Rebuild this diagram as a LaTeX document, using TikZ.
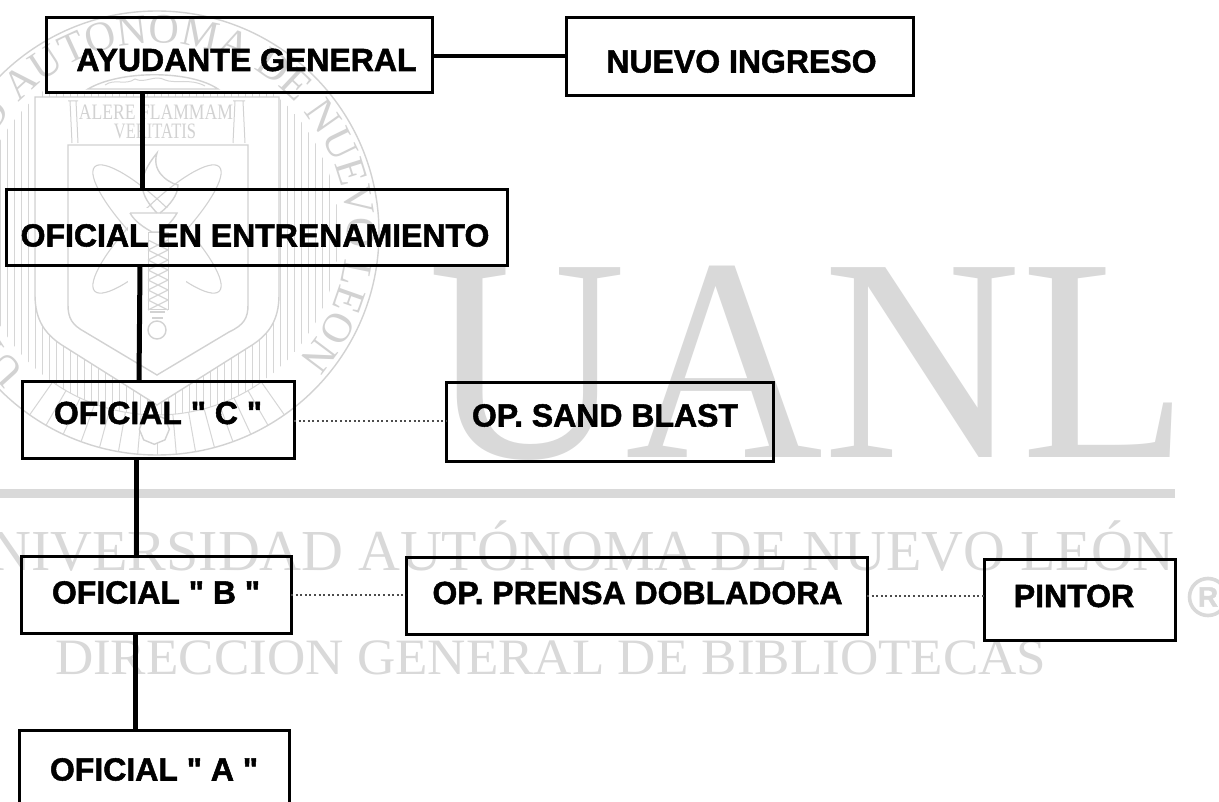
\documentclass[tikz,border=0pt]{standalone}
\usepackage{fontspec}
\usepackage{graphicx}
\usetikzlibrary{decorations.text}
\setmainfont{Liberation Serif}
\newfontfamily\labfont[BoldFeatures={FakeBold=1.6}]{Liberation Sans}
\definecolor{wm}{HTML}{D9D9D9}
\definecolor{sealc}{HTML}{D2D2D2}
\definecolor{hatchc}{HTML}{D6D6D6}
\tikzset{
  orgbox/.style={draw=black,line width=3pt,inner sep=0pt,outer sep=0pt,font=\labfont\bfseries\fontsize{32}{32}\selectfont},
  solidlink/.style={draw=black,line width=5pt},
  toplink/.style={draw=black,line width=3.8pt},
  dotlink/.style={draw=black!70,line width=1.2pt,dash pattern=on 2pt off 2.6pt},
  sealline/.style={draw=sealc,line width=1.4pt},
  hatchline/.style={draw=hatchc,line width=.8pt},
  wmtext/.style={text=wm,inner sep=0pt,outer sep=0pt}
}
\newcommand\shieldout{(35,97) -- (35,295) .. controls (35,320) and (45,335) .. (65,347) -- (157,405) -- (249,347) .. controls (269,335) and (279,320) .. (279,295) -- (279,97) -- cycle}
\newcommand\shieldin{(68,145) -- (68,305) .. controls (68,318) and (72,325) .. (85,332) -- (157,375) -- (229,332) .. controls (244,325) and (248,318) .. (248,305) -- (248,145) -- cycle}
% name, x1, y1, x2, y2, text centre x, text centre y, text
\newcommand\orgnode[8]{%
  \pgfmathsetlengthmacro\kk{2*(#6-(#2+#4)/2)}%
  \pgfmathsetlengthmacro\rr{(#3+#5)/2-#7-11.5}%
  \node[orgbox,minimum width={(#4-#2)*1pt},minimum height={(#5-#3)*1pt}] (#1) at ({(#2+#4)/2},{(#3+#5)/2})
    {\raisebox{\rr}[0pt][0pt]{\kern\kk\relax #8}};%
}
\begin{document}
\begin{tikzpicture}[x=1pt,y=-1pt]
\useasboundingbox (0,0) rectangle (1219,802);
\clip (0,0) rectangle (1219,802);
\fill[white] (0,0) rectangle (1219,802);
% --- watermark: letters
\node[wmtext,anchor=base west] (wmU) at (428,457) {\scalebox{.945}[1]{\fontsize{290}{290}\selectfont UANL}};
\fill[wm] (0,489) rectangle (1175,498);
\node[wmtext,anchor=base east] (wmA) at (1175,570) {\fontsize{58}{58}\selectfont UNIVERSIDAD AUTÓNOMA DE NUEVO LEÓN};
\node[wmtext,anchor=base west] (wmB) at (55,674) {\scalebox{1.04}[1]{\fontsize{51}{51}\selectfont DIRECCION GENERAL DE BIBLIOTECAS}};
\node[circle,draw=wm,line width=3.6pt,text=wm,inner sep=0pt,minimum size=37pt,font=\labfont\bfseries\fontsize{28}{28}\selectfont] (wmR) at (1208,597) {R};
% --- watermark: seal
\begin{scope}[even odd rule]
  \clip (-50,92) rectangle (400,450);
  \clip (157,233) circle (182pt) \shieldout;
  \foreach \x in {-28,-21,...,340} \draw[hatchline] (\x,40) -- (\x,430);
\end{scope}
\begin{scope}[shift={(157pt,-233pt)},x=1pt,y=1pt]
  \draw[sealline] (0,0) circle (222);
  \draw[hatchline,line width=1pt] (-125:182) arc[start angle=-125,end angle=-55,radius=182];
  \foreach \a in {-125,-120,...,-55} \draw[hatchline,line width=1pt] (\a:182) -- (\a:222);
  \path[decorate,decoration={text along path,text align=center,
     text={|\fontsize{42}{42}\selectfont\color{sealc}|UNIVERSIDAD AUTONOMA DE NUEVO LEON}}]
     (230:190) arc[start angle=230,end angle=-45,radius=190];
  \draw[sealline,fill=white] (-1.5,-202) ++(22.5:15) -- ++(112.5:11.5) -- ++(157.5:11.5) -- ++(202.5:11.5) -- ++(247.5:11.5) -- ++(292.5:11.5) -- ++(337.5:11.5) -- ++(22.5:11.5) -- cycle;
\end{scope}
\draw[sealline] \shieldout;
\draw[sealline] \shieldin;
% pediment and columns
\draw[sealline] (88,89) .. controls (120,70) and (190,70) .. (218,89) -- cycle;
\draw[hatchline,line width=1pt] (105,85) .. controls (115,78) and (125,86) .. (135,79) .. controls (145,84) and (155,74) .. (165,80) .. controls (175,84) and (190,78) .. (205,86);
\draw[sealline,line width=1pt] (68,101) -- (78,101) (70,101) -- (72,143) (76,101) -- (78,143)
  (233,101) -- (245,101) (235,101) -- (233,143) (243,101) -- (245,143);
\node[text=sealc,inner sep=0pt] (motto1) at (156,112) {\scalebox{.8}[1]{\fontsize{22}{22}\selectfont ALERE FLAMMAM}};
\node[text=sealc,inner sep=0pt] (motto2) at (155,131) {\scalebox{.75}[1]{\fontsize{22}{22}\selectfont VERITATIS}};
% atom
\draw[sealline,line width=1.1pt] (157,229) ellipse[x radius=88pt,y radius=22pt,rotate=45];
\draw[sealline,line width=1.1pt] (157,229) ellipse[x radius=88pt,y radius=22pt,rotate=-45];
% torch
\fill[white] (128,208) rectangle (186,316);
\draw[sealline] (157,213) .. controls (140,195) and (135,180) .. (157,153) .. controls (150,175) and (175,185) .. (178,185) .. controls (178,195) and (170,205) .. (160,213);
\draw[sealline] (130,213) -- (177,213) .. controls (172,222) and (165,228) .. (160,232) -- (152,232) .. controls (145,228) and (135,222) .. (130,213);
\draw[sealline,line width=1pt] (148,233) rectangle (168,310);
\foreach \y in {240,250,...,300} {\draw[hatchline,line width=1.2pt] (148,\y) -- (168,\y+10) (168,\y) -- (148,\y+10);}
\draw[sealline] (150,312) -- (165,312) (152,318) -- (163,318);
\draw[sealline] (157,330) circle (9pt);
% --- organisation chart
\orgnode{ayud}{46}{18}{432}{93}{246.5}{59.5}{AYUDANTE GENERAL}
\orgnode{nuevo}{566}{18}{913}{96}{741.5}{61}{NUEVO INGRESO}
\orgnode{entr}{6}{190}{507}{266}{255}{235}{OFICIAL EN ENTRENAMIENTO}
\orgnode{ofc}{22}{382}{294}{458}{158}{412.5}{OFICIAL " C "}
\orgnode{sand}{446}{383}{773}{461}{605}{415}{OP. SAND BLAST}
\orgnode{ofb}{21}{556}{291}{633}{156}{592}{OFICIAL " B "}
\orgnode{prensa}{406}{557}{867}{634}{637.5}{592.5}{OP. PRENSA DOBLADORA}
\orgnode{pintor}{984}{559}{1175}{640}{1074}{595.5}{PINTOR}
\orgnode{ofa}{19}{730}{289}{812}{154}{769}{OFICIAL " A "}
% connectors
\draw[solidlink] ([xshift=-97pt]ayud.south) -- ([xshift=-114.5pt]entr.north);
\draw[solidlink] ([xshift=-116.5pt]entr.south) -- ([xshift=-19pt]ofc.north);
\draw[solidlink] ([xshift=-22pt]ofc.south) -- ([xshift=-20pt]ofb.north);
\draw[solidlink] ([xshift=-21pt]ofb.south) -- ([xshift=-19pt]ofa.north);
\draw[toplink] ([yshift=-.5pt]ayud.east) -- ([yshift=1pt]nuevo.west);
\draw[dotlink] ([yshift=-1pt]ofc.east) -- ([yshift=1pt]sand.west);
\draw[dotlink] ([yshift=-.5pt]ofb.east) -- ([yshift=.5pt]prensa.west);
\draw[dotlink] ([yshift=-.5pt]prensa.east) -- ([yshift=3.5pt]pintor.west);
\end{tikzpicture}
\end{document}
